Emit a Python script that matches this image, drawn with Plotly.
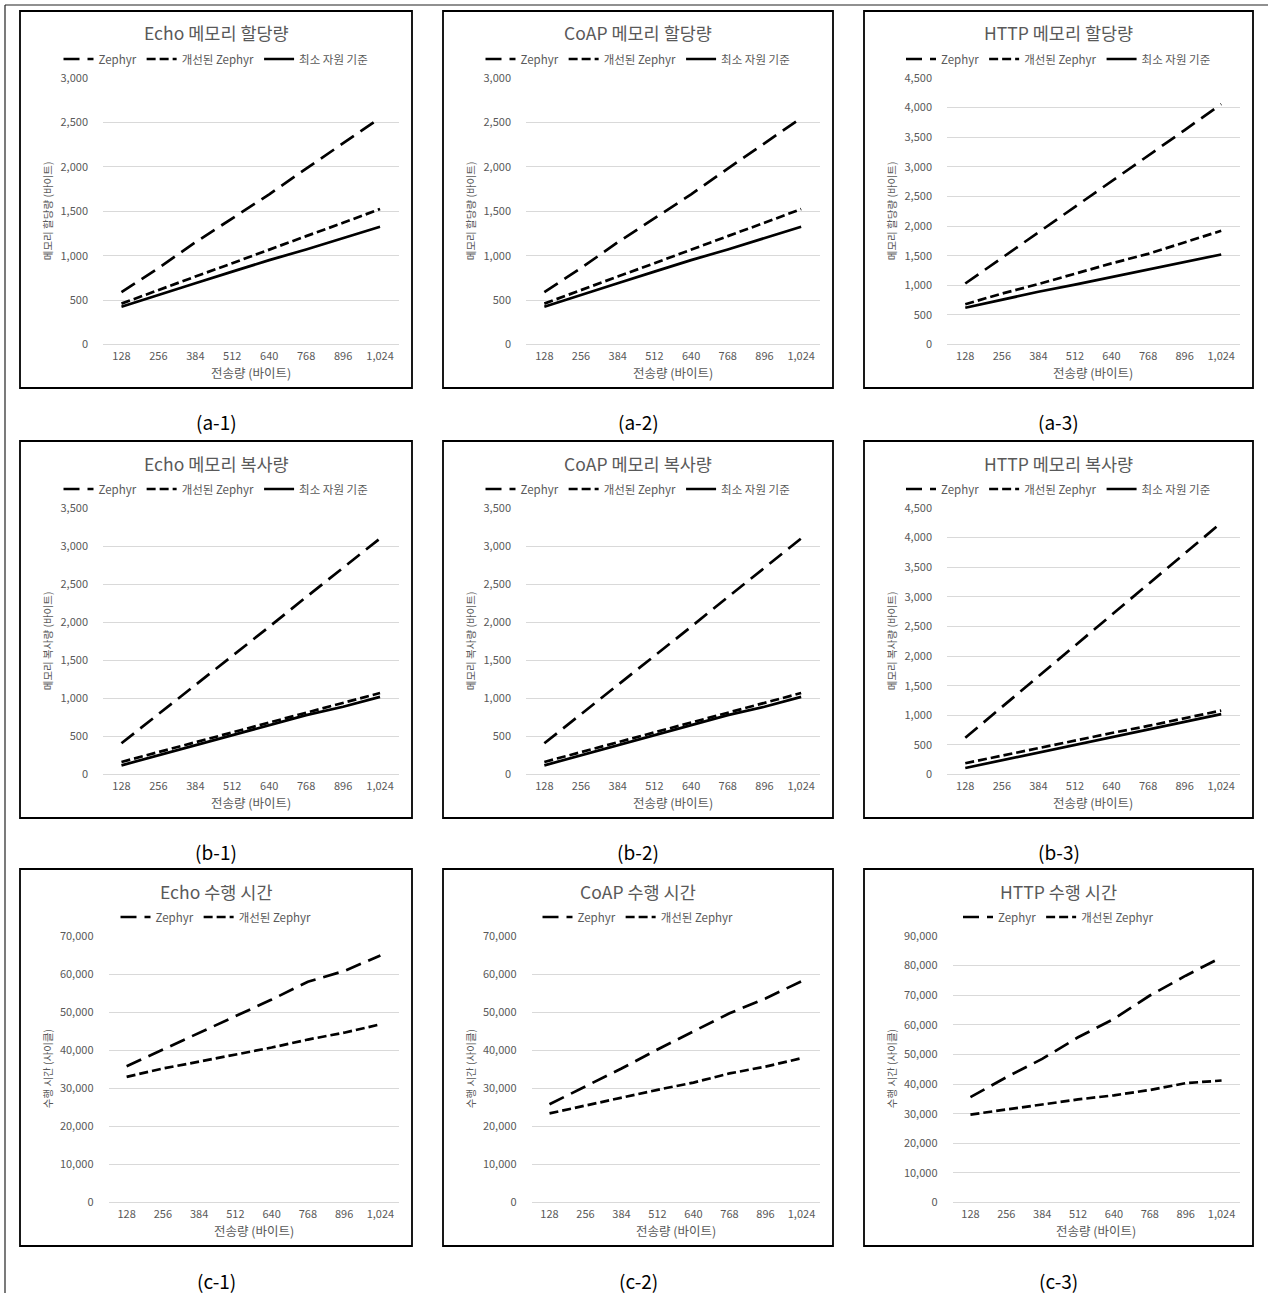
import plotly.graph_objects as go

# ---------------- data ----------------
transfer_sizes = ["128", "256", "384", "512", "640", "768", "896", "1,024"]

series_names = ["Zephyr", "개선된 Zephyr", "최소 자원 기준"]

# (a) memory allocation (bytes)
echo_alloc_zephyr = [590, 860, 1150, 1420, 1690, 1980, 2260, 2550]
echo_alloc_improved = [460, 615, 765, 915, 1070, 1220, 1370, 1525]
echo_alloc_minimum = [425, 560, 690, 820, 950, 1070, 1200, 1325]

coap_alloc_zephyr = [590, 860, 1150, 1420, 1690, 1980, 2260, 2550]
coap_alloc_improved = [460, 615, 765, 915, 1070, 1220, 1370, 1525]
coap_alloc_minimum = [425, 560, 690, 820, 950, 1070, 1200, 1325]

http_alloc_zephyr = [1030, 1460, 1890, 2320, 2760, 3190, 3620, 4060]
http_alloc_improved = [680, 860, 1020, 1200, 1370, 1530, 1730, 1920]
http_alloc_minimum = [620, 760, 890, 1010, 1140, 1270, 1400, 1520]

# (b) memory copy (bytes)
echo_copy_zephyr = [410, 790, 1170, 1560, 1940, 2330, 2710, 3100]
echo_copy_improved = [165, 295, 430, 560, 690, 810, 940, 1070]
echo_copy_minimum = [120, 250, 390, 510, 650, 780, 890, 1020]

coap_copy_zephyr = [410, 790, 1170, 1560, 1940, 2330, 2710, 3100]
coap_copy_improved = [165, 295, 430, 560, 690, 810, 940, 1070]
coap_copy_minimum = [120, 250, 390, 510, 650, 780, 890, 1020]

http_copy_zephyr = [620, 1140, 1660, 2170, 2690, 3210, 3730, 4250]
http_copy_improved = [190, 320, 440, 570, 700, 820, 950, 1080]
http_copy_minimum = [110, 240, 370, 500, 630, 760, 890, 1020]

# (c) execution time (cycles)
echo_time_zephyr = [35800, 40200, 44400, 48800, 53300, 58000, 60800, 64900]
echo_time_improved = [33000, 35200, 37000, 38800, 40700, 42800, 44600, 46800]

coap_time_zephyr = [25800, 30400, 35200, 40200, 45000, 49700, 53600, 58100]
coap_time_improved = [23400, 25500, 27600, 29600, 31500, 33900, 35700, 37900]

http_time_zephyr = [35600, 42300, 48500, 55800, 62000, 69900, 76600, 82800]
http_time_improved = [29700, 31300, 33100, 34800, 36200, 38000, 40300, 41200]

panel_titles = [
    "Echo 메모리 할당량", "CoAP 메모리 할당량", "HTTP 메모리 할당량",
    "Echo 메모리 복사량", "CoAP 메모리 복사량", "HTTP 메모리 복사량",
    "Echo 수행 시간", "CoAP 수행 시간", "HTTP 수행 시간",
]
y_titles = ["메모리 할당량 (바이트)", "메모리 복사량 (바이트)", "수행 시간 (사이클)"]
x_title = "전송량 (바이트)"
captions = ["(a-1)", "(a-2)", "(a-3)", "(b-1)", "(b-2)", "(b-3)", "(c-1)", "(c-2)", "(c-3)"]
y_max = [3000, 3000, 4500, 3500, 3500, 4500, 70000, 70000, 90000]
y_step = [500, 500, 500, 500, 500, 500, 10000, 10000, 10000]

panel_series = [
    [echo_alloc_zephyr, echo_alloc_improved, echo_alloc_minimum],
    [coap_alloc_zephyr, coap_alloc_improved, coap_alloc_minimum],
    [http_alloc_zephyr, http_alloc_improved, http_alloc_minimum],
    [echo_copy_zephyr, echo_copy_improved, echo_copy_minimum],
    [coap_copy_zephyr, coap_copy_improved, coap_copy_minimum],
    [http_copy_zephyr, http_copy_improved, http_copy_minimum],
    [echo_time_zephyr, echo_time_improved],
    [coap_time_zephyr, coap_time_improved],
    [http_time_zephyr, http_time_improved],
]

# ---------------- layout geometry (pixels) ----------------
W, H = 1268, 1293
col_left = [20, 443, 864]
col_width = [392, 390, 389]
row_top = [11, 441, 869]
row_height = 377
caption_y = [421, 851, 1280]

FONT = "Noto Sans CJK KR, Noto Sans, sans-serif"
GRAY = "#595959"
dashes = ["16px,8px", "9px,4px", "solid"]


def px_x(x):
    return x / W


def px_y(y):
    return 1 - y / H


fig = go.Figure()
shapes = []
annotations = []
layout_extra = {}

for i in range(9):
    r, c = divmod(i, 3)
    left, width, top = col_left[c], col_width[c], row_top[r]
    pl = left + (88.5 if r == 2 else 83)
    pr = left + width - 13.5
    pt = top + 67
    pb = top + 333.5
    sfx = "" if i == 0 else str(i + 1)
    leg = "legend" if i == 0 else f"legend{i + 1}"

    for k, vals in enumerate(panel_series[i]):
        fig.add_trace(go.Scatter(
            x=transfer_sizes, y=vals, mode="lines", name=series_names[k],
            line=dict(color="black", width=2.7, dash=dashes[k]),
            xaxis="x" + sfx, yaxis="y" + sfx, legend=leg,
        ))

    layout_extra["xaxis" + sfx] = dict(
        domain=[px_x(pl), px_x(pr)], anchor="y" + sfx, type="category",
        categoryorder="array", categoryarray=transfer_sizes,
        range=[-0.5, 7.5], showgrid=False, showline=False, zeroline=False,
        ticks="", ticklabelstandoff=3, automargin=False,
        tickfont=dict(family=FONT, size=11, color=GRAY), fixedrange=True,
    )
    layout_extra["yaxis" + sfx] = dict(
        domain=[px_y(pb), px_y(pt)], anchor="x" + sfx,
        range=[0, y_max[i]], dtick=y_step[i], tick0=0, tickformat=",d",
        showgrid=True, gridcolor="#d9d9d9", gridwidth=1,
        zeroline=True, zerolinecolor="#d9d9d9", zerolinewidth=1,
        showline=False, ticks="", ticklabelstandoff=14, automargin=False,
        tickfont=dict(family=FONT, size=11, color=GRAY), fixedrange=True,
    )
    layout_extra[leg] = dict(
        orientation="h", x=px_x(left + width / 2), xanchor="center",
        y=px_y(top + 48), yanchor="middle", bgcolor="rgba(0,0,0,0)",
        font=dict(family=FONT, size=11.5, color=GRAY), itemwidth=30,
        tracegroupgap=0,
    )

    # panel border
    shapes.append(dict(type="rect", xref="paper", yref="paper",
                       x0=px_x(left), x1=px_x(left + width),
                       y0=px_y(top + row_height), y1=px_y(top),
                       line=dict(color="black", width=1.8)))
    # title
    annotations.append(dict(text=panel_titles[i], xref="paper", yref="paper",
                            x=px_x(left + width / 2), y=px_y(top + 22),
                            xanchor="center", yanchor="middle", showarrow=False,
                            font=dict(family=FONT, size=17.5, color=GRAY)))
    # x axis title
    annotations.append(dict(text=x_title, xref="paper", yref="paper",
                            x=px_x((pl + pr) / 2), y=px_y(top + 361.5),
                            xanchor="center", yanchor="middle", showarrow=False,
                            font=dict(family=FONT, size=12.5, color=GRAY)))
    # y axis title
    annotations.append(dict(text=y_titles[r], xref="paper", yref="paper",
                            x=px_x(left + 27), y=px_y((pt + pb) / 2),
                            xanchor="center", yanchor="middle", showarrow=False,
                            textangle=-90,
                            font=dict(family=FONT, size=10.5, color=GRAY)))
    # caption
    annotations.append(dict(text=captions[i], xref="paper", yref="paper",
                            x=px_x(left + width / 2), y=px_y(caption_y[r]),
                            xanchor="center", yanchor="middle", showarrow=False,
                            font=dict(family=FONT, size=19, color="black")))

# outer frame lines
shapes.append(dict(type="line", xref="paper", yref="paper",
                   x0=px_x(5), x1=1, y0=px_y(5), y1=px_y(5),
                   line=dict(color="#222222", width=1.2)))
shapes.append(dict(type="line", xref="paper", yref="paper",
                   x0=px_x(5), x1=px_x(5), y0=0, y1=px_y(5),
                   line=dict(color="#222222", width=1.2)))

fig.update_layout(
    width=W, height=H,
    margin=dict(l=0, r=0, t=0, b=0, pad=0, autoexpand=False),
    paper_bgcolor="white", plot_bgcolor="white",
    shapes=shapes, annotations=annotations, **layout_extra,
)

fig.write_html(
    "out.html",
    config={"displayModeBar": False, "staticPlot": True},
    post_script=(
        "document.documentElement.style.margin='0';"
        "document.documentElement.style.overflow='hidden';"
        "document.body.style.margin='0';"
        "document.body.style.padding='0';"
        "document.body.style.overflow='hidden';"
        "var gd=document.getElementById('{plot_id}');"
        "gd.style.position='fixed';gd.style.top='0px';gd.style.left='0px';"
    ),
)
